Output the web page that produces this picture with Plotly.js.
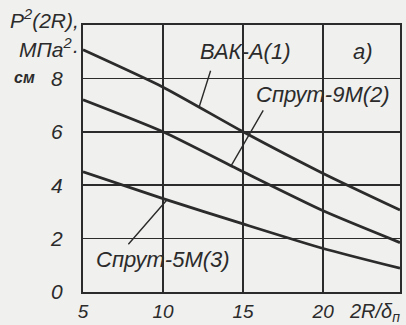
<!DOCTYPE html>
<html>
<head>
<meta charset="utf-8">
<script src="https://cdn.plot.ly/plotly-3.0.1.min.js"></script>
<style>html,body{margin:0;padding:0;background:#f0f0ee;}#chart{width:406px;height:325px;}</style>
</head>
<body>
<div id="chart"></div>
<script>
// Data
const xVals = [5, 10, 15, 20, 24.8];
const vakA1 = [9.07, 7.67, 6.0, 4.44, 3.07];      // ВАК-А(1)
const sprut9M2 = [7.2, 6.0, 4.5, 3.04, 1.85];      // Спрут-9М(2)
const sprut5M3 = [4.5, 3.5, 2.55, 1.63, 0.89];     // Спрут-5М(3)
const seriesNames = ['ВАК-А(1)', 'Спрут-9М(2)', 'Спрут-5М(3)'];
const xTicks = [5, 10, 15, 20];
const yTicks = [0, 2, 4, 6, 8];

const ink = '#2b2b2b';
const fnt = {family: 'Liberation Sans, Arial, sans-serif', style: 'italic', color: ink};

function line(y, name) {
  return {x: xVals, y: y, name: name, mode: 'lines', type: 'scatter',
          line: {color: ink, width: 2.8, shape: 'spline', smoothing: 0.6},
          hoverinfo: 'skip'};
}

const traces = [line(vakA1, seriesNames[0]), line(sprut9M2, seriesNames[1]), line(sprut5M3, seriesNames[2])];

function interp(arr, x) {
  for (let i = 0; i < xVals.length - 1; i++) {
    if (x >= xVals[i] && x <= xVals[i+1]) {
      const t = (x - xVals[i]) / (xVals[i+1] - xVals[i]);
      return arr[i] + t * (arr[i+1] - arr[i]);
    }
  }
  return arr[arr.length-1];
}

const leader = (x, arr, ax, ay) => ({x: x, y: interp(arr, x), xref: 'x', yref: 'y', text: '',
  showarrow: true, arrowhead: 0, arrowwidth: 1.4, arrowcolor: ink, ax: ax, ay: ay, standoff: 0});

const txt = (t, x, y, size, extra) => Object.assign({text: t, x: x, y: y, xref: 'paper', yref: 'paper',
  showarrow: false, xanchor: 'center', yanchor: 'middle',
  font: Object.assign({}, fnt, {size: size})}, extra || {});

const layout = {
  width: 406, height: 325,
  margin: {l: 83, r: 6, t: 25, b: 33},
  paper_bgcolor: '#f0f0ee', plot_bgcolor: '#f0f0ee',
  showlegend: false,
  xaxis: {range: [5, 24.8], tickvals: xTicks, ticktext: xTicks.map(String),
          showgrid: true, gridcolor: ink, gridwidth: 1.6, zeroline: false,
          showline: true, linecolor: ink, linewidth: 2.2, mirror: true,
          ticks: '', ticklabelstandoff: 1, tickfont: Object.assign({}, fnt, {size: 19})},
  yaxis: {range: [0, 10], tickvals: yTicks, ticktext: yTicks.map(String),
          showgrid: true, gridcolor: ink, gridwidth: 1.6, zeroline: false,
          showline: true, linecolor: ink, linewidth: 2.2, mirror: true,
          ticks: '', ticklabelstandoff: 14, tickfont: Object.assign({}, fnt, {size: 21})},
  annotations: [
    leader(12.25, vakA1, 12, -38),
    leader(14.25, sprut9M2, 33, -57),
    leader(10.25, sprut5M3, -40, 46),
    txt('ВАК-А(1)', 0.511, 0.899, 22),
    txt('а)', 0.883, 0.899, 22),
    txt('Спрут-9М(2)', 0.757, 0.738, 22),
    txt('Спрут-5М(3)', 0.252, 0.12, 22),
    txt('2R/δ<sub>п</sub>', 0.921, -0.075, 20),
    txt('P<sup>2</sup>(2R),', -0.123, 1.022, 21),
    txt('МПа<sup>2</sup>·', -0.107, 0.912, 21),
    txt('<b>см</b>', -0.183, 0.805, 16)
  ]
};

Plotly.newPlot('chart', traces, layout, {staticPlot: true, displayModeBar: false});
</script>
</body>
</html>
